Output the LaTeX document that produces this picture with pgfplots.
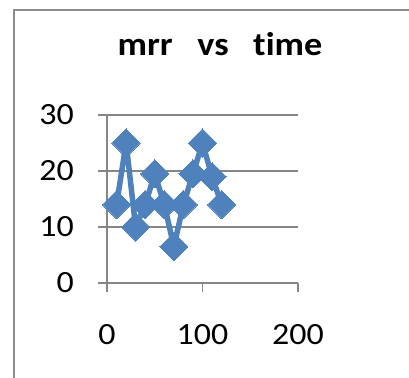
\documentclass[border=0pt]{standalone}
\usepackage{fontspec}
\usepackage{pgfplots}
\pgfplotsset{compat=1.18}
\setmainfont{Carlito}
\newfontfamily\labelfont[FakeStretch=1.1,Ligatures={NoCommon}]{Carlito}
\definecolor{seriesblue}{HTML}{4F81BD}
\definecolor{axisgray}{HTML}{868686}
\definecolor{framegray}{HTML}{8C8C8C}
\begin{document}
\begin{tikzpicture}[x=1bp,y=1bp]
\useasboundingbox (0,0) rectangle (409,378);
\fill[white] (0,0) rectangle (409,378);
% chart frame (left and top edges)
\draw[framegray, line width=2.5bp] (14,0) -- (14,368) -- (409,368);
% title
\node[anchor=base, inner sep=0pt] at (220,323) {\labelfont\fontsize{33}{38}\selectfont\bfseries mrr~~~vs~~~t\kern0pt ime};
\begin{axis}[
  at={(107bp,95bp)}, anchor=south west,
  scale only axis, width=191bp, height=168bp,
  xmin=0, xmax=200, ymin=0, ymax=30,
  xtick={0,100,200}, ytick={0,10,20,30},
  axis x line=bottom, axis y line=left,
  axis line style={axisgray, line width=1.3bp, -},
  tick align=outside, major tick length=9bp,
  tick style={axisgray, line width=1.3bp},
  ymajorgrids, grid style={axisgray, line width=1.3bp},
  /pgf/number format/assume math mode=true,
  ticklabel style={font=\labelfont\fontsize{31}{36}\selectfont, text=black},
  yticklabel style={anchor=east, inner sep=0pt, xshift=-24bp},
  xticklabel style={anchor=north, inner sep=0pt, yshift=-32bp},
  clip=false,
]
\addplot[seriesblue, line width=5.5bp, line join=round,
  mark=square*, mark options={rotate=45, fill=seriesblue, draw=seriesblue, line width=0pt}, mark size=10bp]
coordinates {
  (10,14) (20,25) (30,10) (40,14) (50,19.5) (60,14)
  (70,6.5) (80,14) (90,19.5) (100,25) (110,19) (120,14)
};
\end{axis}
\end{tikzpicture}
\end{document}
